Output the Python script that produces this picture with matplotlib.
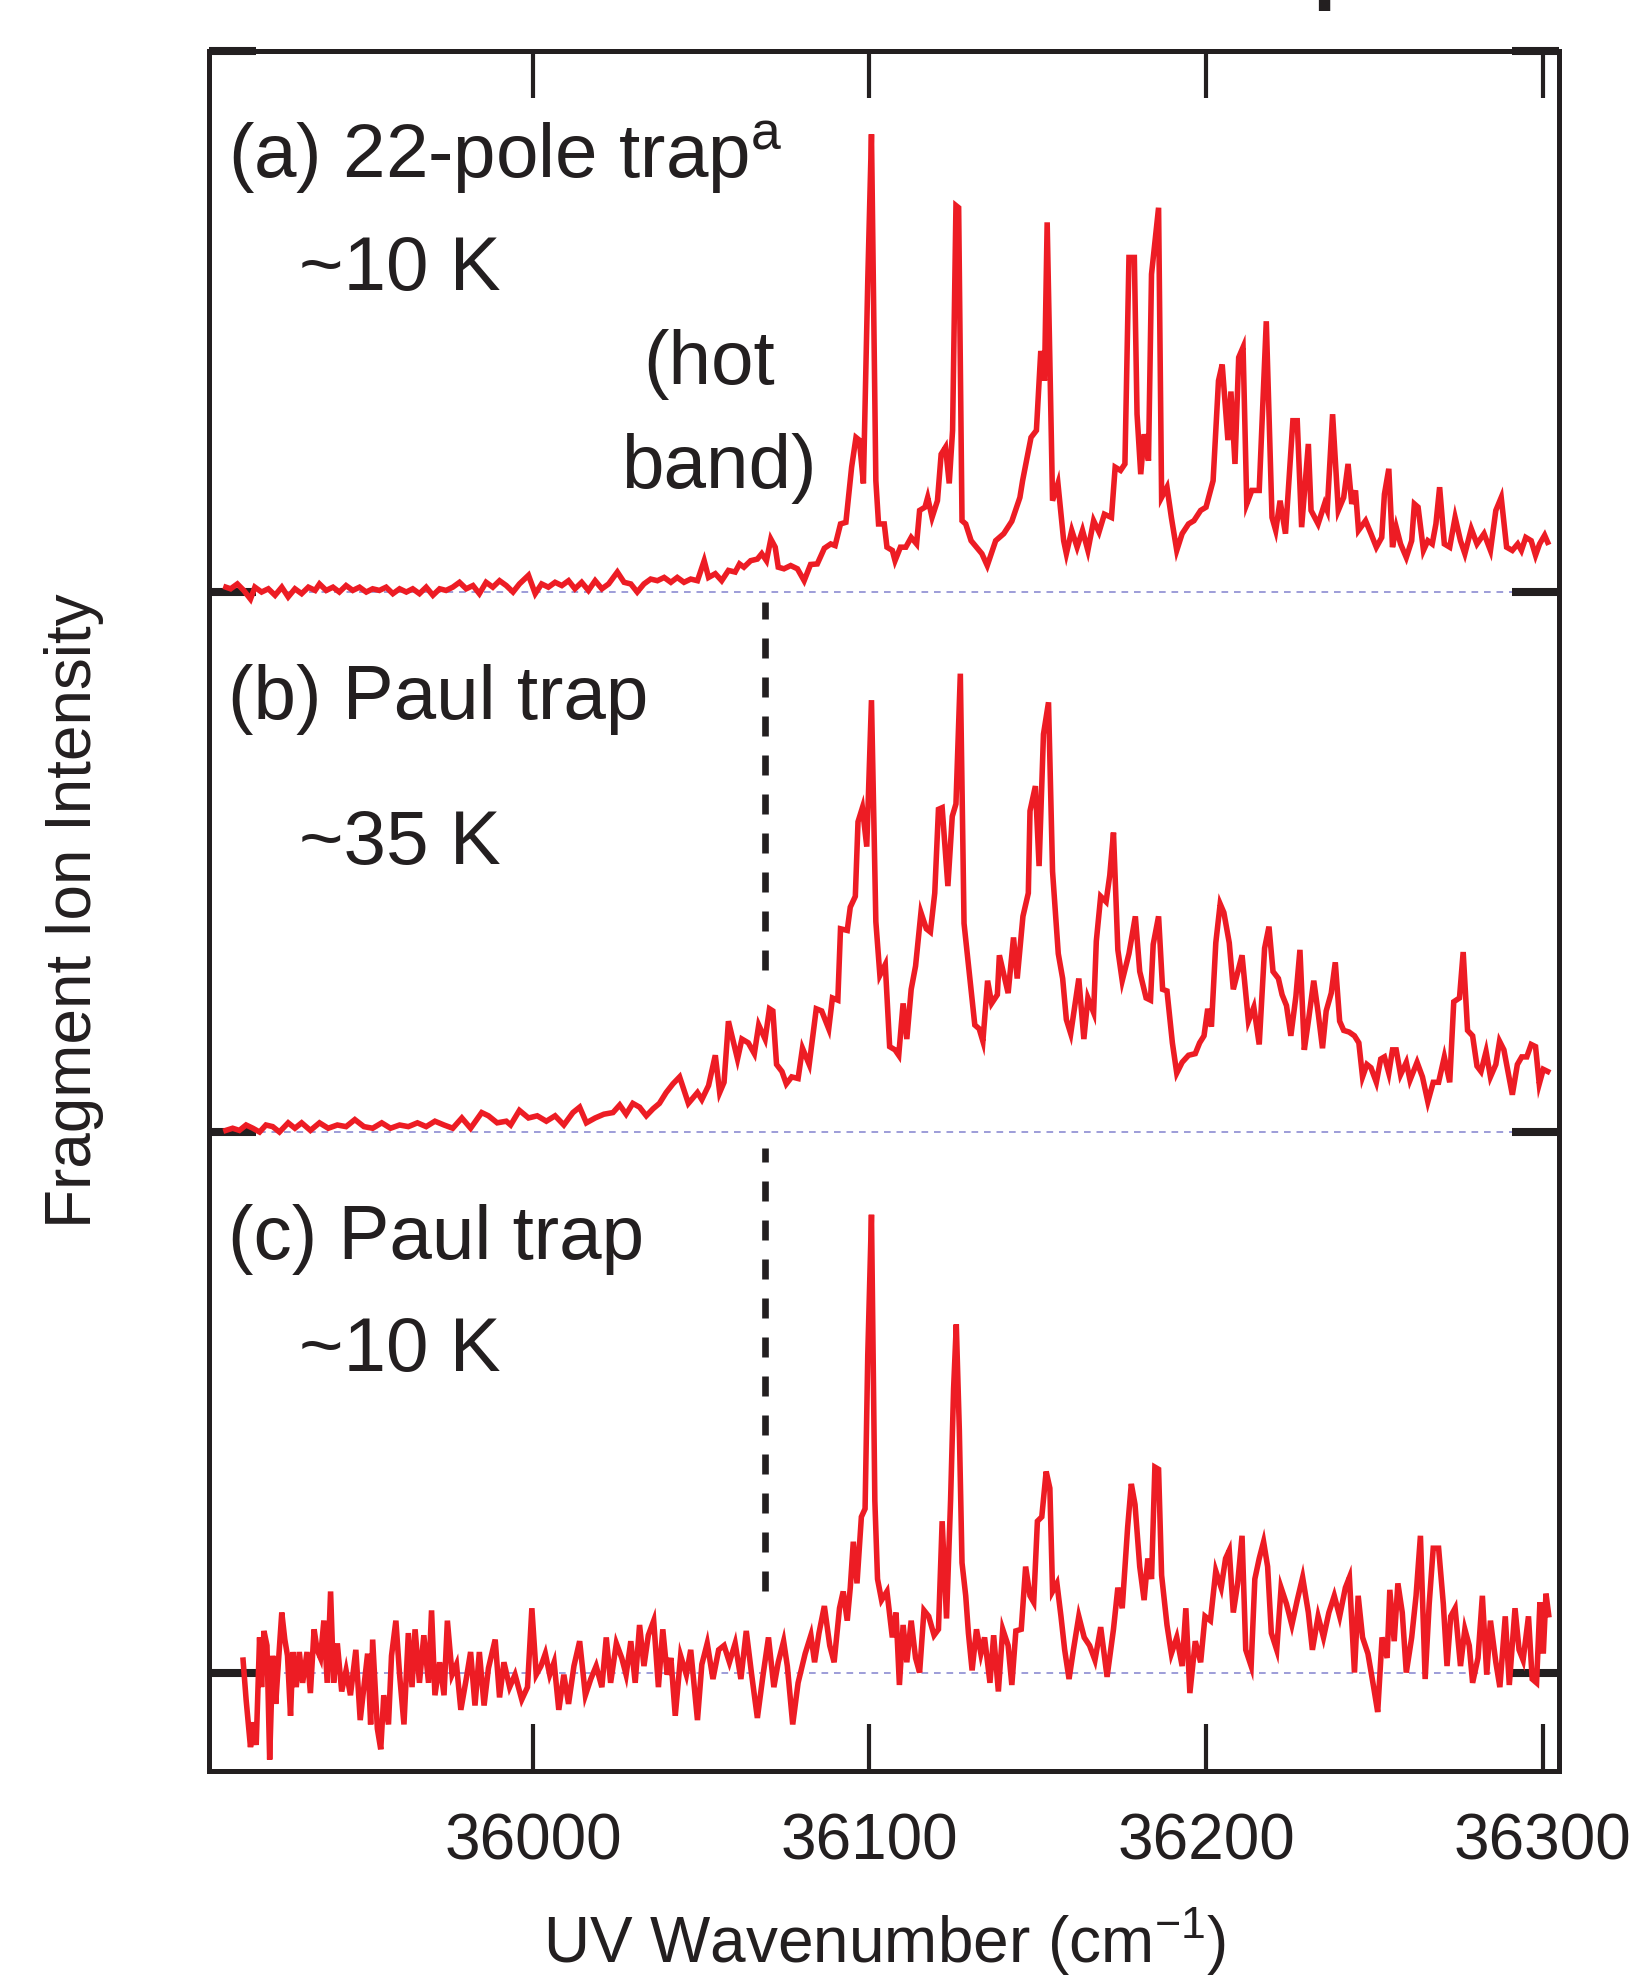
import matplotlib
matplotlib.use("Agg")
import matplotlib.pyplot as plt
import numpy as np

plt.rcParams['font.family'] = ['Liberation Sans', 'DejaVu Sans']
plt.rcParams['mathtext.fontset'] = 'custom'
plt.rcParams['mathtext.rm'] = 'Liberation Sans'
plt.rcParams['mathtext.it'] = 'Liberation Sans:italic'

INK = '#231f20'
RED = '#ed1c24'
BASE = '#8c8cd2'

### spectrum (a): 22-pole trap, ~10 K
a_x = [35908.8, 35910.2, 35912.2, 35914.1, 35916.1, 35917.4, 35919.4, 35921.4, 35923.4, 35925.4,
       35927.3, 35929.3, 35931.3, 35933.3, 35935.3, 35936.6, 35938.6, 35940.6, 35942.5, 35944.5,
       35946.5, 35948.5, 35950.5, 35952.4, 35954.4, 35956.4, 35958.4, 35960.4, 35962.4, 35964.3,
       35966.3, 35968.3, 35970.3, 35972.3, 35974.2, 35976.2, 35978.2, 35980.2, 35982.2, 35984.1,
       35986.1, 35988.1, 35990.1, 35992.1, 35994.1, 35996.0, 35998.7, 36000.7, 36002.6, 36004.6,
       36006.6, 36008.6, 36010.6, 36012.5, 36014.5, 36016.5, 36018.5, 36020.5, 36022.5, 36025.1,
       36027.1, 36029.1, 36031.0, 36033.0, 36035.0, 36037.0, 36039.0, 36041.0, 36042.9, 36044.9,
       36046.9, 36048.9, 36050.9, 36052.2, 36054.2, 36056.1, 36058.1, 36060.1, 36061.4, 36062.7,
       36064.7, 36066.7, 36068.0, 36069.4, 36070.7, 36072.0, 36072.9, 36074.6, 36076.6, 36078.6,
       36080.6,
       36082.5, 36084.5, 36086.6, 36088.5, 36089.8, 36091.4, 36093.0, 36094.7, 36096.0, 36097.0,
       36098.2, 36099.5, 36100.6, 36101.9, 36102.7, 36104.4, 36105.2, 36106.8, 36107.6, 36109.2,
       36110.8, 36112.4, 36114.0, 36114.9, 36116.5, 36117.3, 36118.6, 36120.2, 36121.3, 36122.6,
       36123.7, 36124.7, 36125.7, 36126.5, 36127.5, 36128.6, 36130.2, 36131.8, 36133.4, 36135.0,
       36137.5, 36139.9, 36142.3, 36144.7, 36145.5, 36148.0, 36149.6, 36150.9, 36152.0, 36152.8,
       36154.4, 36156.0, 36157.7, 36158.5, 36160.1, 36161.7, 36163.3, 36164.9, 36166.6, 36168.2,
       36169.8, 36171.9, 36173.0, 36174.6, 36175.9, 36177.1, 36178.7, 36179.5, 36180.6, 36181.6,
       36182.9, 36183.8, 36185.9, 36186.8, 36188.4, 36189.7, 36191.3, 36192.9, 36194.8, 36196.4,
       36198.4, 36200.0, 36202.1, 36203.7, 36204.8, 36206.5, 36207.4, 36208.6, 36209.7, 36211.0,
       36212.1, 36213.6, 36215.8, 36217.9, 36219.6, 36220.7, 36222.0, 36223.6, 36225.8, 36227.1,
       36228.4, 36230.4, 36231.2, 36233.3, 36235.2, 36236.0, 36237.6, 36239.3, 36240.9, 36242.2,
       36243.3, 36244.4, 36245.3, 36247.4, 36249.0, 36250.6, 36252.2, 36253.0, 36254.3, 36255.4,
       36256.5, 36257.8, 36259.5, 36261.1, 36261.9, 36263.0, 36264.6, 36265.9, 36267.2, 36268.3,
       36269.4, 36270.8, 36272.4, 36274.0, 36275.6, 36276.9, 36278.8, 36280.5, 36282.6, 36284.5,
       36286.1, 36287.7, 36289.3, 36291.0, 36292.6, 36293.7, 36295.0, 36296.6, 36297.9, 36299.1,
       36300.6, 36301.5]
a_y = [0.8, 0.5, 1.4, 0.2, -1.4, 0.8, -0.1, 0.5, -0.7, 0.8,
       -1.0, 0.5, -0.4, 0.8, 0.2, 1.4, 0.2, 0.8, -0.1, 1.1,
       0.2, 0.8, -0.1, 0.5, 0.2, 0.8, -0.4, 0.5, -0.1, 0.5,
       -0.4, 0.8, -0.7, 0.5, 0.2, 0.8, 1.7, 0.5, 1.1, -0.4,
       1.7, 0.8, 2.0, 1.1, -0.1, 1.4, 3.0, -0.4, 1.4, 0.8,
       1.7, 1.1, 2.0, 0.5, 1.7, 0.2, 2.0, 0.5, 1.4, 3.6,
       1.7, 1.4, -0.1, 1.4, 2.3, 2.0, 2.6, 1.7, 2.6, 1.7,
       2.3, 2.0, 5.7, 2.6, 3.3, 2.0, 3.9, 3.6, 5.1, 4.5,
       5.7, 6.0, 7.0, 5.7, 9.7, 8.2, 4.5, 4.2, 4.8, 4.2,
       2.0,
       5.0, 5.1, 8.0, 8.8, 8.5, 12.5, 12.8, 23.0, 28.5, 28.0,
       20.0, 57.5, 84.6, 20.5, 12.5, 12.5, 8.2, 7.6, 5.7, 8.2,
       8.2, 10.0, 8.8, 15.0, 15.6, 17.4, 13.7, 16.8, 25.4, 26.7,
       20.0, 29.8, 71.4, 71.0, 13.1, 12.5, 9.4, 8.2, 7.0, 4.8,
       9.4, 10.7, 13.0, 17.4, 20.5, 28.5, 29.8, 44.5, 39.0, 68.3,
       16.8, 20.0, 9.4, 7.0, 11.3, 8.2, 11.3, 7.6, 13.1, 11.0,
       14.3, 13.7, 23.0, 22.4, 23.6, 61.8, 61.8, 32.8, 21.7, 29.1,
       24.2, 58.7, 71.0, 17.4, 19.3, 13.7, 7.6, 10.7, 12.5, 13.1,
       15.0, 15.6, 20.5, 39.0, 42.0, 28.0, 37.0, 23.6, 43.3, 45.2,
       16.2, 18.7, 18.7, 50.0, 13.7, 11.3, 16.8, 10.7, 31.6, 31.6,
       11.9, 27.3, 15.0, 12.5, 16.2, 15.0, 32.8, 15.0, 17.4, 23.6,
       16.2, 18.7, 11.3, 13.1, 10.7, 8.2, 10.0, 18.0, 22.7, 8.2,
       11.9, 8.8, 6.3, 9.4, 16.2, 15.6, 7.6, 9.4, 8.8, 12.5,
       19.3, 8.8, 8.2, 13.7, 9.4, 7.0, 11.6, 8.8, 10.7, 7.6,
       15.0, 17.4, 8.2, 7.6, 8.8, 7.6, 10.0, 9.4, 6.7, 8.8,
       10.4, 9.1]

### spectrum (b): Paul trap, ~35 K
b_x = [35908.8, 35910.8, 35912.8, 35914.8, 35916.8, 35918.8, 35920.7, 35922.7, 35924.7, 35927.3,
       35929.3, 35931.3, 35933.9, 35936.6, 35939.2, 35941.9, 35944.5, 35947.1, 35949.8, 35952.4,
       35955.1, 35957.7, 35960.4, 35963.0, 35965.7, 35968.3, 35970.9, 35973.6, 35976.2, 35978.9,
       35981.5, 35984.8, 35986.8, 35989.4, 35992.1, 35993.4, 35996.0, 35998.7, 36001.3, 36004.0,
       36006.6, 36009.2, 36011.9, 36013.9, 36015.9, 36018.5, 36021.1, 36023.8, 36025.8, 36027.7,
       36029.7, 36031.7, 36033.7, 36035.7, 36037.6, 36039.6, 36041.6, 36043.6, 36046.2, 36048.9,
       36050.2, 36052.2, 36054.2, 36055.5, 36056.8, 36058.1, 36060.8, 36062.1, 36064.0, 36065.8,
       36067.1, 36069.0, 36070.3, 36071.3, 36072.4, 36074.0, 36075.3, 36076.9, 36078.8, 36080.1,
       36082.1, 36084.2, 36085.8, 36087.9, 36089.0, 36090.6, 36091.4, 36093.4, 36094.3, 36095.8,
       36096.6, 36097.9, 36099.2, 36100.6, 36101.9, 36103.1, 36104.7, 36106.0, 36107.6, 36108.7,
       36110.0, 36111.1, 36112.4, 36113.7, 36115.3, 36116.9, 36118.1, 36119.4, 36120.5, 36121.6,
       36123.3, 36124.6, 36125.7, 36127.0, 36128.1, 36129.4, 36131.3, 36132.6, 36133.7, 36135.1,
       36136.3, 36138.0, 36138.6, 36141.2, 36142.8, 36143.9, 36145.6, 36147.2, 36147.7, 36149.3,
       36150.4, 36151.7, 36153.2, 36154.4, 36156.1, 36157.4, 36158.5, 36159.8, 36162.2, 36163.7,
       36164.9, 36166.6, 36167.4, 36168.7, 36170.3, 36171.4, 36172.5, 36173.8, 36175.1, 36177.1,
       36179.0, 36180.3, 36182.2, 36183.5, 36184.3, 36185.9, 36187.1, 36188.4, 36190.0, 36191.3,
       36192.9, 36194.8, 36196.8, 36198.1, 36199.4, 36200.5, 36201.6, 36202.9, 36204.2, 36205.3,
       36206.9, 36208.1, 36210.7, 36212.6, 36214.2, 36215.8, 36217.4, 36218.7, 36219.9, 36221.5,
       36222.6, 36223.9, 36225.2, 36226.7, 36227.9, 36229.2, 36230.4, 36232.0, 36233.3, 36234.6,
       36235.7, 36237.2, 36238.4, 36239.7, 36240.9, 36242.5, 36244.1, 36245.4, 36246.5, 36247.8,
       36249.0, 36250.6, 36251.9, 36253.0, 36254.3, 36255.4, 36256.5, 36257.8, 36259.5, 36260.6,
       36262.7, 36264.3, 36265.9, 36267.5, 36269.1, 36270.8, 36272.4, 36273.6, 36275.3, 36276.4,
       36277.7, 36279.2, 36280.5, 36281.7, 36283.2, 36284.5, 36286.1, 36287.2, 36288.5, 36291.0,
       36292.5, 36293.8, 36295.3, 36296.6, 36297.9, 36299.0, 36300.2, 36301.5]
b_y = [0.3, 0.7, 0.3, 1.3, 0.7, 0.0, 1.3, 1.0, 0.0, 1.7,
       0.7, 1.7, 0.3, 1.7, 0.7, 1.3, 1.0, 2.3, 1.0, 0.7,
       1.7, 0.7, 1.3, 1.0, 1.7, 1.0, 2.0, 1.3, 0.7, 2.6,
       0.7, 3.6, 3.0, 1.7, 2.0, 1.3, 4.0, 2.6, 3.0, 2.0,
       3.0, 1.3, 3.6, 4.6, 1.7, 2.6, 3.3, 3.6, 5.0, 3.3,
       5.3, 4.6, 3.0, 4.3, 5.3, 7.3, 8.9, 10.2, 5.3, 7.3,
       6.0, 8.6, 14.2, 7.3, 9.2, 20.5, 13.5, 17.2, 16.5, 14.5,
       19.8, 17.2, 22.8, 22.4, 12.5, 11.2, 8.9, 10.2, 9.9, 15.5,
       12.5, 22.8, 22.4, 19.1, 24.8, 24.4, 37.6, 37.3, 41.6, 43.6,
       57.4, 60.0, 52.8, 79.9, 38.9, 29.0, 31.0, 15.8, 15.2, 14.2,
       23.8, 17.2, 26.4, 30.7, 40.6, 37.6, 37.0, 44.2, 59.7, 60.0,
       45.5, 58.4, 60.7, 84.8, 38.6, 31.0, 19.8, 19.1, 16.8, 28.0,
       23.8, 25.4, 32.7, 25.7, 36.0, 28.4, 39.9, 44.2, 59.4, 64.0,
       49.2, 73.6, 79.5, 48.2, 33.0, 28.4, 20.8, 18.2, 28.4, 17.2,
       24.8, 22.1, 35.3, 43.6, 42.6, 47.5, 55.4, 33.7, 28.0, 33.0,
       39.9, 29.7, 24.8, 24.4, 34.7, 39.9, 26.4, 26.1, 16.5, 10.9,
       12.9, 14.2, 14.5, 16.5, 17.8, 22.8, 19.5, 35.0, 42.2, 40.6,
       35.0, 26.4, 32.7, 20.5, 23.1, 16.2, 34.0, 38.0, 29.7, 28.4,
       25.4, 23.4, 17.8, 25.1, 33.7, 15.2, 20.5, 28.0, 22.1, 15.5,
       22.4, 25.7, 31.4, 20.5, 18.8, 18.5, 17.8, 16.5, 10.2, 12.5,
       11.9, 9.2, 13.5, 13.9, 10.9, 15.2, 15.2, 10.6, 12.9, 9.6,
       12.9, 10.2, 5.6, 9.2, 9.2, 13.9, 9.2, 24.1, 24.8, 33.3,
       18.8, 17.8, 12.2, 11.2, 14.9, 10.2, 12.5, 16.8, 15.2, 6.9,
       12.5, 13.9, 13.9, 16.2, 15.8, 8.9, 11.6, 11.2]

### spectrum (c): Paul trap, ~10 K
c_x = [35913.9, 35914.8, 35916.1, 35917.0, 35917.8, 35918.8, 35919.4, 35920.1, 35921.0, 35921.8,
       35922.7, 35923.6, 35924.4, 35925.4, 35926.3, 35927.1, 35928.0, 35928.7, 35929.7, 35930.6,
       35931.6, 35932.9, 35933.9, 35935.0, 35935.9, 35936.9, 35937.9, 35938.9, 35939.9, 35940.8,
       35941.9, 35943.2, 35944.5, 35945.8, 35947.4, 35948.7, 35949.8, 35950.9, 35951.8, 35952.4,
       35953.8, 35954.8, 35955.7, 35957.1, 35958.0, 35959.3, 35960.4, 35961.7, 35963.0, 35964.1,
       35965.0, 35966.3, 35967.6, 35969.0, 35969.9, 35970.9, 35972.3, 35973.6, 35974.6, 35976.0,
       35977.3, 35978.6, 35980.2, 35981.5, 35982.8, 35984.1, 35985.5, 35986.8, 35988.8, 35990.1,
       35991.4, 35993.1, 35994.7, 35996.7, 35998.4, 35999.7, 36001.0, 36002.4, 36003.7, 36005.0,
       36006.3, 36007.7, 36009.2, 36010.6, 36012.2, 36013.9, 36015.6, 36017.2, 36018.8, 36020.5,
       36021.8, 36023.1, 36024.8, 36026.4, 36027.7, 36029.1, 36030.4, 36031.7, 36033.0, 36034.3,
       36035.9, 36037.3, 36038.6, 36039.9, 36041.0, 36042.3, 36043.9, 36045.6, 36046.9, 36048.9,
       36050.2, 36051.8, 36053.5, 36055.2, 36056.8, 36058.4, 36060.1, 36061.8, 36063.4, 36065.0,
       36066.7, 36068.4, 36070.0, 36071.6, 36072.9,
       36074.5, 36075.6, 36077.2, 36078.8, 36080.9, 36082.6, 36083.7, 36085.0, 36086.6, 36088.2,
       36089.5, 36091.1, 36092.2, 36093.4, 36094.3, 36095.2, 36096.3, 36097.6, 36098.7, 36099.5,
       36100.6, 36101.6, 36102.4, 36103.6, 36105.2, 36106.8, 36107.9, 36108.9, 36110.0, 36111.1,
       36112.4, 36113.7, 36114.9, 36116.2, 36117.6, 36119.2, 36120.5, 36121.6, 36122.9, 36124.1,
       36125.0, 36125.8, 36126.7, 36127.5, 36128.6, 36129.4, 36130.5, 36131.8, 36133.1, 36134.2,
       36135.8, 36136.9, 36138.3, 36139.6, 36141.2, 36142.3, 36143.5, 36145.1, 36146.4, 36147.7,
       36148.8, 36149.9, 36151.2, 36152.5, 36153.6, 36154.4, 36155.7, 36156.9, 36158.0, 36159.3,
       36160.6, 36162.2, 36163.8, 36165.4, 36167.0, 36168.7, 36170.6, 36172.5, 36173.8, 36175.1,
       36176.7, 36177.8, 36178.9, 36180.3, 36181.6, 36182.7, 36183.8, 36184.8, 36185.9, 36186.8,
       36188.4, 36189.7, 36191.3, 36192.9, 36194.0, 36195.2, 36196.8, 36198.4, 36199.7, 36201.3,
       36202.9, 36204.5, 36205.8, 36206.9, 36208.1, 36209.4, 36210.7, 36211.8, 36213.4, 36214.5,
       36215.8, 36217.1, 36218.3, 36219.4, 36221.0, 36222.3, 36223.9, 36225.5, 36227.1, 36228.7,
       36230.4, 36231.6, 36233.3, 36234.9, 36236.5, 36238.1, 36239.7, 36241.4, 36242.6, 36244.1,
       36245.2, 36246.5, 36248.1, 36249.8, 36251.0, 36252.3, 36253.8, 36254.6, 36255.9, 36257.0,
       36258.3, 36259.5, 36261.1, 36262.4, 36263.7, 36265.1, 36266.3, 36267.5, 36269.1, 36270.5,
       36271.6, 36272.7, 36274.0, 36275.6, 36276.9, 36278.2, 36279.2, 36280.8, 36282.1, 36283.4,
       36284.5, 36286.1, 36287.3, 36288.9, 36290.1, 36291.8, 36293.0, 36294.2, 36295.8, 36296.9,
       36298.2, 36299.2, 36300.2, 36301.0, 36301.8]
c_y = [2.3, -5.0, -13.8, -9.2, -13.4, 6.5, -2.7, 7.7, 5.0, -16.1,
       3.1, -5.8, 1.9, 11.1, 6.1, 3.1, -8.0, 3.8, -2.7, 3.8,
       -1.9, 3.8, -3.8, 8.0, 4.2, 2.7, 9.6, -1.9, 15.0, -1.9,
       5.4, -3.5, 0.4, -4.2, 4.2, -8.8, -2.7, 3.5, -9.6, 6.1,
       -10.4, -14.2, -4.2, -9.6, 3.1, 9.6, -0.4, -9.6, 7.3, -2.7,
       8.0, -1.9, 6.9, -1.9, 11.5, -4.2, 1.9, -4.2, 9.6, -0.4,
       1.5, -6.9, -1.2, 3.8, -6.1, 3.8, -6.1, 0.8, 6.1, -4.6,
       1.9, -2.7, -0.4, -5.0, -2.7, 11.9, -0.4, 1.2, 3.5, -0.4,
       1.9, -6.9, -0.4, -5.8, 1.2, 5.8, -4.2, -1.2, 1.2, -2.7,
       6.5, -1.9, 5.4, 2.7, -0.4, 5.8, -1.9, 8.8, 1.2, 6.9,
       9.6, -2.7, 8.0, -0.4, 2.7, -8.0, 3.1, -0.4, 4.2, -8.8,
       1.5, 5.4, -1.2, 4.2, 5.0, 1.9, 5.4, -1.2, 7.7, -0.4,
       -8.4, -0.4, 6.5, -2.7, 1.9,
       5.8, 1.2, -9.6, -1.9, 3.5, 6.9, 1.9, 7.3, 12.3, 5.0,
       1.9, 11.9, 15.0, 9.6, 15.7, 24.2, 16.5, 28.8, 30.3, 58.7,
       84.7, 31.8, 17.3, 13.4, 15.0, 6.5, 11.1, -2.3, 8.8, 1.9,
       9.6, 2.7, 0.0, 11.5, 10.4, 6.9, 8.0, 28.0, 10.0, 31.8,
       52.5, 64.4, 44.9, 20.3, 14.2, 7.3, 0.4, 8.0, 3.5, 6.5,
       -1.9, 6.9, -3.5, 8.0, 5.0, -2.3, 7.7, 8.0, 19.6, 14.2,
       13.0, 28.0, 28.8, 37.2, 34.1, 15.0, 16.5, 10.4, 4.2, -1.2,
       4.2, 10.4, 6.5, 5.0, 2.3, 8.4, -0.8, 8.0, 15.7, 11.9,
       26.8, 34.9, 31.1, 19.6, 13.4, 21.1, 17.3, 38.0, 37.6, 18.0,
       8.8, 3.5, 6.5, 1.2, 11.9, -3.8, 5.8, 1.9, 10.4, 9.6,
       18.8, 15.7, 21.1, 22.6, 11.1, 16.5, 25.3, 4.2, 1.2, 17.3,
       21.1, 24.2, 19.6, 7.3, 4.2, 15.7, 12.7, 8.8, 13.4, 17.6,
       11.1, 4.2, 10.4, 6.5, 11.1, 14.2, 10.4, 15.7, 17.6, 0.0,
       14.2, 6.5, 3.5, -2.7, -7.3, 6.5, 2.7, 15.3, 5.8, 16.5,
       11.1, 0.0, 6.5, 14.2, 25.3, -1.2, 12.7, 23.0, 23.0, 12.7,
       1.2, 10.4, 11.9, 1.2, 8.0, 5.0, -1.9, 2.7, 14.2, -0.4,
       9.6, 1.9, -2.7, 10.4, -2.3, 11.9, 4.2, 2.3, 10.4, -1.2,
       -1.9, 13.0, 3.5, 14.6, 10.7]

spectra = [(a_x, a_y), (b_x, b_y), (c_x, c_y)]
offsets = [2, 1, 0]
panel_labels = ["(a) 22-pole trap$^{\\mathrm{a}}$", "(b) Paul trap", "(c) Paul trap"]
temp_labels = ["~10 K", "~35 K", "~10 K"]

hot_band = 36069            # wavenumber of the hot band marker
hot_segments = [(1.30, 1.98), (0.15, 0.97)]

fig = plt.figure(figsize=(8.18, 9.92), dpi=200)
ax = fig.add_axes([0.1278, 0.1074, 0.8252, 0.8669])

for (x, y), off in zip(spectra, offsets):
    assert len(x) == len(y)
    ax.axhline(off, color=BASE, lw=0.6, dashes=(4, 3.5), zorder=1)
    ax.plot(x, np.array(y) / 100.0 + off, color=RED, lw=2.0, zorder=3,
            solid_joinstyle='miter')

for y0, y1 in hot_segments:
    ax.plot([hot_band, hot_band], [y0, y1], color=INK, lw=2.4, dashes=(3.0, 2.85),
            solid_capstyle='butt', dash_capstyle='butt', zorder=2)

### text labels
lab_y = [2.765, 1.764, 0.765]
tmp_y = [2.557, 1.495, 0.557]
for lab, ty, tmp, my in zip(panel_labels, lab_y, temp_labels, tmp_y):
    ax.text(35909.5, ty, lab, fontsize=27.5, color=INK, va='baseline', ha='left')
    ax.text(35930.5, my, tmp, fontsize=27.5, color=INK, va='baseline', ha='left')
ax.text(36052.4, 2.384, "(hot", fontsize=27.5, color=INK, va='baseline', ha='center')
ax.text(36055.4, 2.192, "band)", fontsize=27.5, color=INK, va='baseline', ha='center')

ax.set_xlim(35903.8, 36304.9)
ax.set_ylim(-0.182, 3.0)
ax.set_xticks([36000, 36100, 36200, 36300])
ax.set_yticks([0, 1, 2, 3])
ax.tick_params(axis='x', direction='in', top=True, bottom=True, length=17, width=1.5,
               color=INK, labelsize=23, labelcolor=INK, pad=15)
ax.tick_params(axis='y', direction='in', left=True, right=True, length=17, width=2.9,
               color=INK, labelleft=False)
for s in ax.spines.values():
    s.set_linewidth(1.8)
    s.set_color(INK)

ax.set_xlabel("UV Wavenumber (cm$^{-1}$)", fontsize=23, color=INK, labelpad=12)
ax.set_ylabel("Fragment Ion Intensity", fontsize=23, color=INK, labelpad=38)

# cropped piece of the heading above the panel
fig.text(0.802, 1.003, "p", fontsize=30, fontweight='bold', color=INK, va='baseline')

fig.savefig("out.png", dpi=200)
